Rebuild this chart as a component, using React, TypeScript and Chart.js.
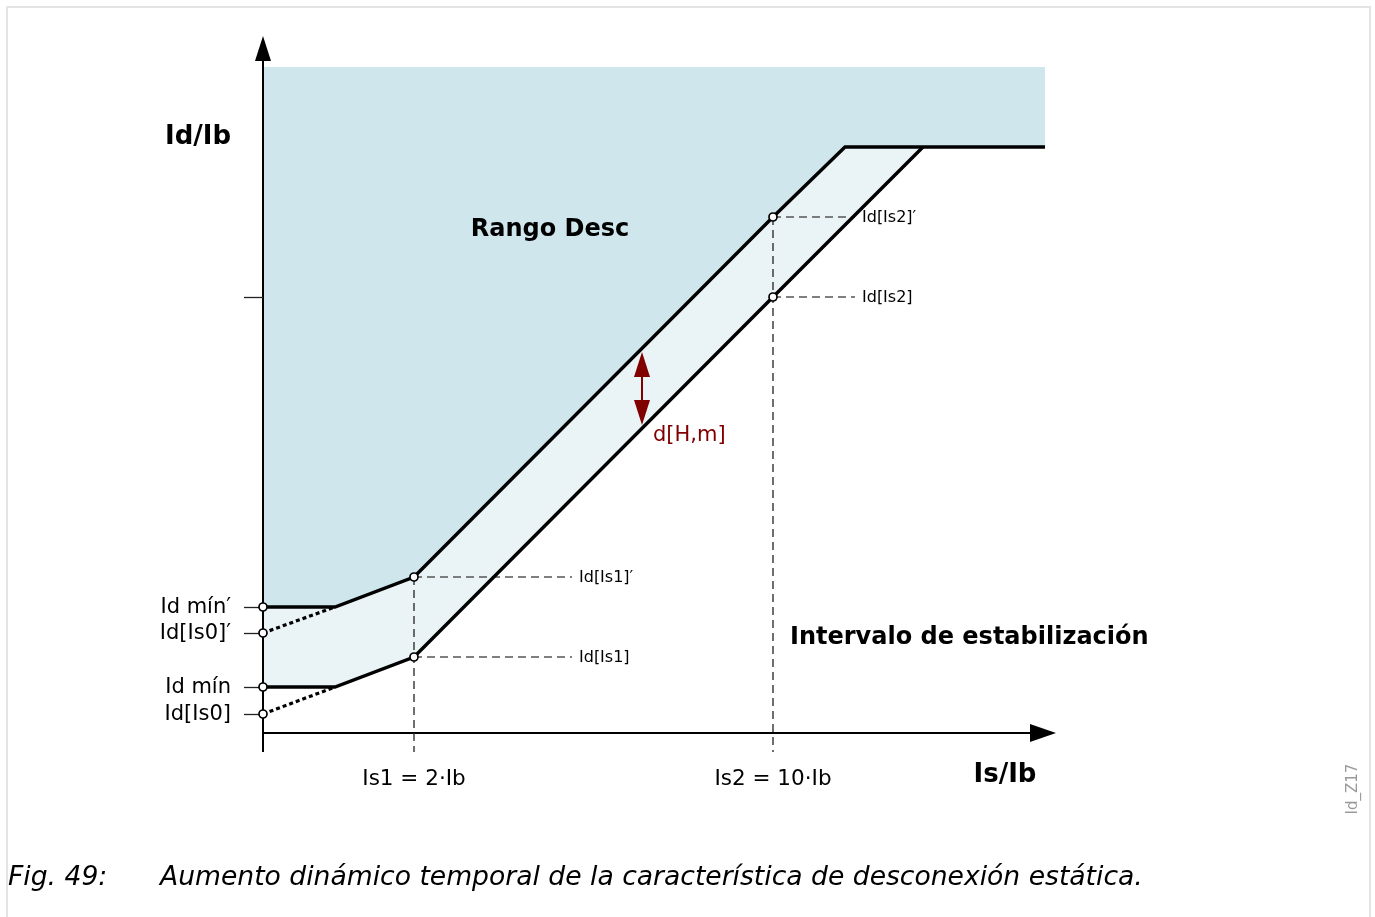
import React, { useEffect, useRef } from 'react';
import { Chart, registerables } from 'chart.js';

Chart.register(...registerables);

// Characteristic curves (diagram units)
const upperCurveX = [0, 72, 151, 510, 582, 782];
const upperCurveY = [126, 126, 156, 516, 586, 586];
const lowerCurveX = [0, 72, 151, 510, 660];
const lowerCurveY = [46, 46, 76, 436, 586];
const upperStartX = [0, 72];
const upperStartY = [100, 126];
const lowerStartX = [0, 72];
const lowerStartY = [19, 46];

// Marked points
const markerX = [0, 0, 0, 0, 151, 151, 510, 510];
const markerY = [126, 100, 46, 19, 156, 76, 516, 436];

// Axis ticks
const yTickValues = [126, 100, 46, 19, 436];
const yTickLabels = ['Id mín′', 'Id[Is0]′', 'Id mín', 'Id[Is0]', ''];
const xTickValues = [0, 151, 510];
const xTickLabels = ['', 'Is1 = 2·Ib', 'Is2 = 10·Ib'];

// Guide lines to labels
const guideX = [151, 151, 510, 510];
const guideY = [156, 76, 516, 436];
const guideEndX = [309, 309, 592, 592];
const guideLabels = ['Id[Is1]′', 'Id[Is1]', 'Id[Is2]′', 'Id[Is2]'];
const dropX = [151, 510];
const dropTopY = [156, 516];

// d[H,m] arrow
const arrowX = 379;
const arrowYTop = 381;
const arrowYBottom = 308;

const xMin = 0;
const xMax = 800;
const yMin = 0;
const yMax = 666;
const axisBelow = -19;

const FONT = '"DejaVu Sans", "Noto Sans", sans-serif';

function pts(xs: number[], ys: number[]) {
  return xs.map((x, i) => ({ x, y: ys[i] }));
}

const drawPlugin = {
  id: 'diagram',
  beforeDraw(chart: any) {
    const ctx = chart.ctx;
    ctx.save();
    ctx.fillStyle = '#ffffff';
    ctx.fillRect(0, 0, chart.width, chart.height);
    ctx.strokeStyle = '#e4e4e4';
    ctx.lineWidth = 2;
    ctx.strokeRect(7, 7, 1363, 920);
    ctx.restore();
  },
  beforeDatasetsDraw(chart: any) {
    const ctx = chart.ctx;
    const sx = chart.scales.x;
    const sy = chart.scales.y;
    const X = (v: number) => sx.getPixelForValue(v);
    const Y = (v: number) => sy.getPixelForValue(v);
    ctx.save();
    ctx.strokeStyle = '#000';
    ctx.fillStyle = '#000';
    ctx.lineWidth = 2;
    const x0 = X(0);
    const y0 = Y(0);
    // y axis
    ctx.beginPath();
    ctx.moveTo(x0, Y(axisBelow));
    ctx.lineTo(x0, 60);
    ctx.stroke();
    ctx.beginPath();
    ctx.moveTo(x0, 36);
    ctx.lineTo(x0 - 8, 61);
    ctx.lineTo(x0 + 8, 61);
    ctx.closePath();
    ctx.fill();
    // x axis
    ctx.beginPath();
    ctx.moveTo(x0, y0);
    ctx.lineTo(1032, y0);
    ctx.stroke();
    ctx.beginPath();
    ctx.moveTo(1056, y0);
    ctx.lineTo(1030, y0 - 9);
    ctx.lineTo(1030, y0 + 9);
    ctx.closePath();
    ctx.fill();
    // y ticks
    ctx.lineWidth = 1.3;
    ctx.strokeStyle = '#222';
    yTickValues.forEach((v) => {
      ctx.beginPath();
      ctx.moveTo(x0 - 19, Math.round(Y(v)) + 0.5);
      ctx.lineTo(x0, Math.round(Y(v)) + 0.5);
      ctx.stroke();
    });
    ctx.restore();
  },
  afterDatasetsDraw(chart: any) {
    const ctx = chart.ctx;
    const sx = chart.scales.x;
    const sy = chart.scales.y;
    const X = (v: number) => sx.getPixelForValue(v);
    const Y = (v: number) => sy.getPixelForValue(v);
    ctx.save();
    ctx.fillStyle = '#000';
    ctx.textBaseline = 'middle';

    // axis titles
    ctx.font = `bold 26px ${FONT}`;
    ctx.textAlign = 'center';
    ctx.fillText('Id/Ib', 198, 137);
    ctx.fillText('Is/Ib', 1005, 775);

    // region labels
    ctx.font = `bold 24px ${FONT}`;
    ctx.fillText('Rango Desc', 550, 230);
    ctx.textAlign = 'left';
    ctx.fillText('Intervalo de estabilización', 790, 638);

    // x tick labels
    ctx.font = `21.5px ${FONT}`;
    ctx.textAlign = 'center';
    xTickValues.forEach((v, i) => {
      if (xTickLabels[i]) ctx.fillText(xTickLabels[i], X(v), Y(0) + 46);
    });

    // y tick labels
    ctx.font = `21px ${FONT}`;
    ctx.textAlign = 'right';
    yTickValues.forEach((v, i) => {
      if (yTickLabels[i]) ctx.fillText(yTickLabels[i], X(0) - 32, Y(v) + 1);
    });

    // guide labels
    ctx.font = `16px ${FONT}`;
    ctx.textAlign = 'left';
    guideLabels.forEach((t, i) => {
      ctx.fillText(t, X(guideEndX[i]) + 7, Y(guideY[i]) + 1);
    });

    // d[H,m] arrow
    const red = '#800000';
    ctx.strokeStyle = red;
    ctx.fillStyle = red;
    ctx.lineWidth = 2;
    const ax = X(arrowX);
    const at = Y(arrowYTop);
    const ab = Y(arrowYBottom);
    ctx.beginPath();
    ctx.moveTo(ax, at + 20);
    ctx.lineTo(ax, ab - 20);
    ctx.stroke();
    ctx.beginPath();
    ctx.moveTo(ax, at);
    ctx.lineTo(ax - 8, at + 25);
    ctx.lineTo(ax + 8, at + 25);
    ctx.closePath();
    ctx.fill();
    ctx.beginPath();
    ctx.moveTo(ax, ab);
    ctx.lineTo(ax - 8, ab - 25);
    ctx.lineTo(ax + 8, ab - 25);
    ctx.closePath();
    ctx.fill();
    ctx.font = `21px ${FONT}`;
    ctx.fillText('d[H,m]', ax + 11, ab + 11);

    // figure id
    ctx.save();
    ctx.translate(1353, 789);
    ctx.rotate(-Math.PI / 2);
    ctx.fillStyle = '#9a9a9a';
    ctx.font = `15px ${FONT}`;
    ctx.textAlign = 'center';
    ctx.fillText('Id_Z17', 0, 0);
    ctx.restore();

    // caption
    ctx.fillStyle = '#000';
    ctx.font = `italic 26.6px ${FONT}`;
    ctx.textAlign = 'left';
    ctx.fillText('Fig. 49:', 8, 878);
    ctx.fillText('Aumento dinámico temporal de la característica de desconexión estática.', 160, 878);
    ctx.restore();
  },
};

export default function App() {
  const ref = useRef<HTMLCanvasElement | null>(null);
  useEffect(() => {
    if (!ref.current) return;
    const guideDatasets: any[] = [];
    guideX.forEach((gx, i) => {
      guideDatasets.push({
        data: [{ x: gx, y: guideY[i] }, { x: guideEndX[i], y: guideY[i] }],
        showLine: true,
        borderColor: '#555',
        borderWidth: 1.3,
        borderDash: [8, 5],
        pointRadius: 0,
        fill: false,
        clip: false,
      });
    });
    dropX.forEach((vx, i) => {
      guideDatasets.push({
        data: [{ x: vx, y: dropTopY[i] }, { x: vx, y: axisBelow }],
        showLine: true,
        borderColor: '#222',
        borderWidth: 1.3,
        borderDash: [8, 5],
        pointRadius: 0,
        fill: false,
        clip: false,
      });
    });
    const chart = new Chart(ref.current, {
      type: 'scatter',
      data: {
        datasets: [
          {
            data: pts(markerX, markerY),
            showLine: false,
            pointRadius: 4,
            pointBackgroundColor: '#ffffff',
            pointBorderColor: '#000',
            pointBorderWidth: 1.7,
            clip: false,
          },
          {
            data: pts(upperCurveX, upperCurveY),
            showLine: true,
            borderColor: '#000',
            borderWidth: 3.4,
            pointRadius: 0,
            fill: 'end',
            backgroundColor: '#cfe7ec',
            clip: false,
          },
          {
            data: pts(lowerCurveX, lowerCurveY),
            showLine: true,
            borderColor: '#000',
            borderWidth: 3.4,
            pointRadius: 0,
            fill: { target: 1 },
            backgroundColor: '#eaf4f7',
            clip: false,
          },
          {
            data: pts(upperStartX, upperStartY),
            showLine: true,
            borderColor: '#000',
            borderWidth: 3.2,
            borderDash: [4, 3],
            pointRadius: 0,
            fill: false,
            clip: false,
          },
          {
            data: pts(lowerStartX, lowerStartY),
            showLine: true,
            borderColor: '#000',
            borderWidth: 3.2,
            borderDash: [4, 3],
            pointRadius: 0,
            fill: false,
            clip: false,
          },
          ...guideDatasets,
        ],
      } as any,
      options: {
        animation: false,
        responsive: false,
        maintainAspectRatio: false,
        layout: { padding: { left: 263, right: 312, top: 67, bottom: 184 } },
        scales: {
          x: { type: 'linear', min: xMin, max: xMax, display: false },
          y: { type: 'linear', min: yMin, max: yMax, display: false },
        },
        plugins: {
          legend: { display: false },
          tooltip: { enabled: false },
          filler: { drawTime: 'beforeDatasetsDraw' },
        } as any,
        events: [],
      },
      plugins: [drawPlugin],
    });
    return () => chart.destroy();
  }, []);
  return (
    <div style={{ position: 'absolute', left: 0, top: 0, width: 1375, height: 917, background: '#fff' }}>
      <canvas ref={ref} width={1375} height={917} style={{ width: 1375, height: 917, display: 'block' }} />
    </div>
  );
}
